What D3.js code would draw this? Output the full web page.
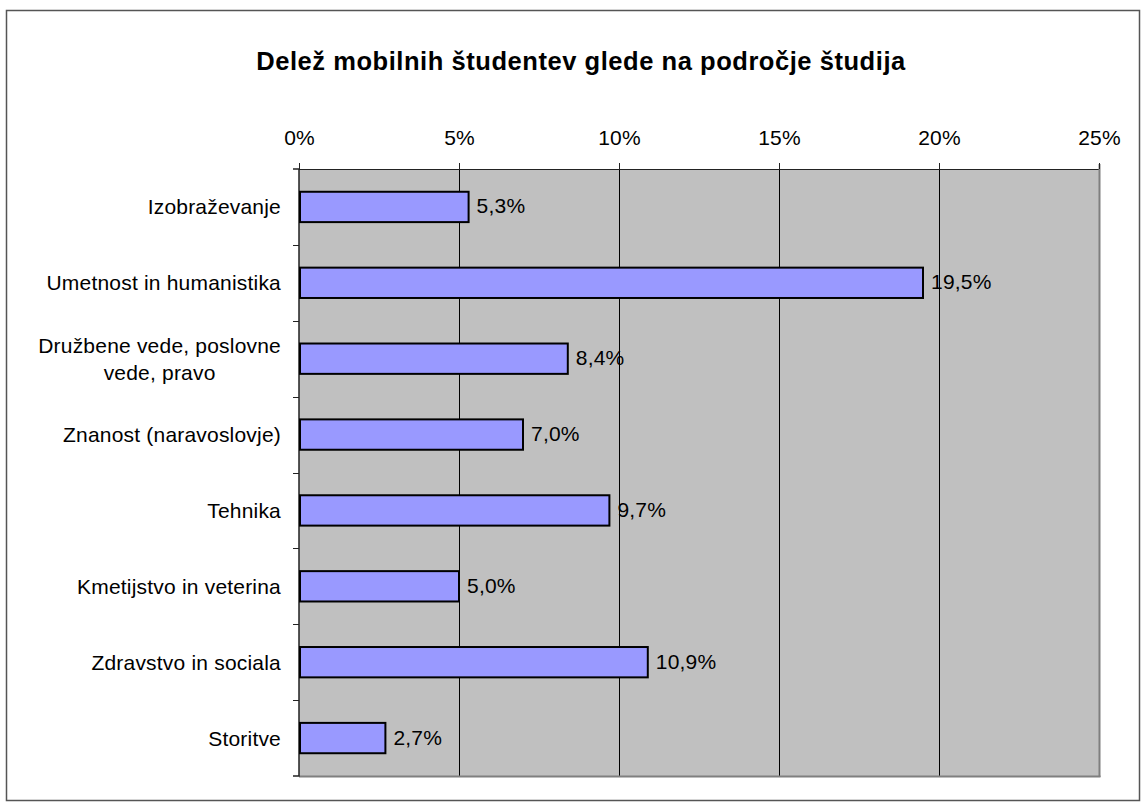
<!DOCTYPE html>
<html>
<head>
<meta charset="utf-8">
<script src="https://cdn.jsdelivr.net/npm/d3@7"></script>
<style>
  html, body { margin: 0; padding: 0; background: #fff; }
  svg { display: block; font-family: "Liberation Sans", Arial, sans-serif; }
</style>
</head>
<body>
<svg id="chart" width="1142" height="803"></svg>
<script>
// Study fields (each inner array is one wrapped label line set)
const categories = [
  ["Izobraževanje"],
  ["Umetnost in humanistika"],
  ["Družbene vede, poslovne", "vede, pravo"],
  ["Znanost (naravoslovje)"],
  ["Tehnika"],
  ["Kmetijstvo in veterina"],
  ["Zdravstvo in sociala"],
  ["Storitve"]
];
// Share of mobile students per field, in percent
const values = [5.3, 19.5, 8.4, 7.0, 9.7, 5.0, 10.9, 2.7];
const tickValues = [0, 5, 10, 15, 20, 25];
const title = "Delež mobilnih študentev glede na področje študija";

const svg = d3.select("#chart");
const W = 1142, H = 803;
const labelFont = 21, labelSpacing = 0.2;

// outer chart frame
svg.append("rect")
  .attr("x", 6.5).attr("y", 10.5)
  .attr("width", W - 9).attr("height", H - 13)
  .attr("fill", "#fff")
  .attr("stroke", "#555").attr("stroke-width", 1.5);

const plot = { left: 299, top: 169, right: 1099, bottom: 776 };

const x = d3.scaleLinear().domain([0, 25]).range([plot.left, plot.right]);
const y = d3.scaleBand()
  .domain(d3.range(categories.length))
  .range([plot.top, plot.bottom])
  .paddingInner(0.6).paddingOuter(0.3);
const band = d3.scaleBand()
  .domain(d3.range(categories.length))
  .range([plot.top, plot.bottom]);

// plot background
svg.append("rect")
  .attr("x", plot.left).attr("y", plot.top)
  .attr("width", plot.right - plot.left).attr("height", plot.bottom - plot.top)
  .attr("fill", "#C0C0C0");

// vertical gridlines
svg.append("g").selectAll("line")
  .data(tickValues.slice(1, -1))
  .join("line")
  .attr("x1", d => Math.round(x(d)) + 0.5).attr("x2", d => Math.round(x(d)) + 0.5)
  .attr("y1", plot.top).attr("y2", plot.bottom)
  .attr("stroke", "#000").attr("stroke-width", 1);

// plot border: dark top, gray shadow right/bottom
svg.append("line")
  .attr("x1", plot.left).attr("x2", plot.right)
  .attr("y1", plot.top + 0.5).attr("y2", plot.top + 0.5)
  .attr("stroke", "#222").attr("stroke-width", 1);
svg.append("line")
  .attr("x1", plot.right + 0.5).attr("x2", plot.right + 0.5)
  .attr("y1", plot.top - 5).attr("y2", plot.bottom + 1)
  .attr("stroke", "#7f7f7f").attr("stroke-width", 2);
svg.append("line")
  .attr("x1", plot.left).attr("x2", plot.right + 1.5)
  .attr("y1", plot.bottom + 0.5).attr("y2", plot.bottom + 0.5)
  .attr("stroke", "#7f7f7f").attr("stroke-width", 2);

// top value axis
const xAxis = d3.axisTop(x)
  .tickValues(tickValues)
  .tickSize(6)
  .tickPadding(18)
  .tickFormat(d => d + "%");
const gx = svg.append("g")
  .attr("transform", `translate(0,${plot.top})`)
  .call(xAxis);
gx.select(".domain").remove();
gx.selectAll(".tick line").attr("stroke", "#222");
gx.selectAll(".tick text")
  .attr("dy", null)
  .attr("font-size", labelFont).attr("letter-spacing", labelSpacing)
  .attr("fill", "#000")
  .attr("font-family", "Liberation Sans, Arial, sans-serif");

// left category axis
const gy = svg.append("g")
  .attr("transform", `translate(${plot.left},0)`);
gy.append("path")
  .attr("fill", "none")
  .attr("stroke", "#222").attr("stroke-width", 1.5)
  .attr("d", `M-6,${plot.top}H0V${plot.bottom}H-6`);
gy.selectAll("line.sep")
  .data(d3.range(1, categories.length))
  .join("line")
  .attr("class", "sep")
  .attr("x1", -6).attr("x2", 0)
  .attr("y1", d => Math.round(band(d)) + 0.5)
  .attr("y2", d => Math.round(band(d)) + 0.5)
  .attr("stroke", "#222").attr("stroke-width", 1);

// category labels: wrapped lines centered, block right-aligned to axis
const labelRight = 281;
const lineH = 27;
categories.forEach((lines, i) => {
  const cy = band(i) + band.bandwidth() / 2;
  const g = svg.append("g");
  const texts = lines.map((ln, k) => g.append("text")
    .attr("font-size", labelFont).attr("letter-spacing", labelSpacing)
    .attr("fill", "#000")
    .attr("dominant-baseline", "central")
    .attr("y", cy + (k - (lines.length - 1) / 2) * lineH)
    .text(ln));
  const maxW = d3.max(texts, t => t.node().getComputedTextLength());
  texts.forEach(t => t.attr("text-anchor", "middle").attr("x", labelRight - maxW / 2));
});

// bars
svg.append("g").selectAll("rect")
  .data(values)
  .join("rect")
  .attr("x", x(0) + 1)
  .attr("y", (d, i) => y(i))
  .attr("width", d => x(d) - x(0) - 1)
  .attr("height", y.bandwidth())
  .attr("fill", "#9999FF")
  .attr("stroke", "#000").attr("stroke-width", 2);

// value labels
svg.append("g").selectAll("text")
  .data(values)
  .join("text")
  .attr("x", d => x(d) + 8)
  .attr("y", (d, i) => y(i) + y.bandwidth() / 2 - 1)
  .attr("dominant-baseline", "central")
  .attr("font-size", labelFont).attr("letter-spacing", labelSpacing)
  .attr("fill", "#000")
  .text(d => d.toFixed(1).replace(".", ",") + "%");

// title
svg.append("text")
  .attr("x", 581).attr("y", 69.5)
  .attr("text-anchor", "middle")
  .attr("font-size", 25.5).attr("letter-spacing", 0.55)
  .attr("font-weight", "bold").attr("fill", "#000")
  .text(title);
</script>
</body>
</html>
